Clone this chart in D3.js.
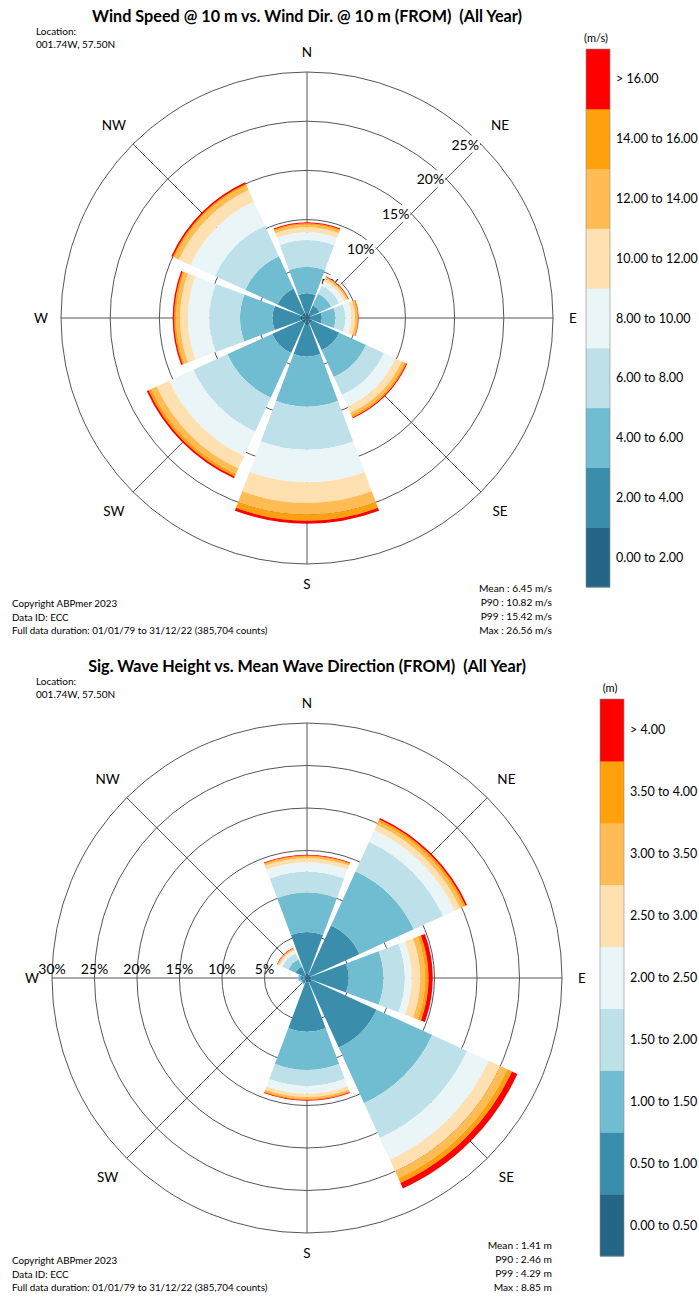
<!DOCTYPE html>
<html>
<head>
<meta charset="utf-8">
<script src="https://cdn.jsdelivr.net/npm/d3@7"></script>
<style>
  body { margin: 0; background: #fff; }
  text { font-family: Lato, "Open Sans", sans-serif; fill: #000; }
</style>
</head>
<body>
<svg id="chart" width="699" height="1297"></svg>
<script>
// ---- shared categories ----
const directions = ["N", "NE", "E", "SE", "S", "SW", "W", "NW"];
const bearings = [0, 45, 90, 135, 180, 225, 270, 315];
const bandColors = ["#256686", "#3A8DAB", "#70BCD1", "#BEE1E9", "#EAF5F8",
                    "#FFE0B1", "#FFBC55", "#FFA10C", "#FF0000"];

// ---- wind speed rose: frequency (%) per speed band, one array per direction ----
const windBands = ["0.00 to 2.00", "2.00 to 4.00", "4.00 to 6.00", "6.00 to 8.00",
                   "8.00 to 10.00", "10.00 to 12.00", "12.00 to 14.00", "14.00 to 16.00", "> 16.00"];
const windN  = [0.5, 2.0, 2.7, 2.7, 0.8, 0.5, 0.25, 0.15, 0.1];
const windNE = [0.4, 1.0, 1.3, 0.9, 0.5, 0.3, 0.15, 0.07, 0.05];
const windE  = [0.4, 1.1, 1.4, 1.0, 0.6, 0.4, 0.2, 0.1, 0.05];
const windSE = [0.6, 3.0, 3.0, 2.0, 1.3, 0.7, 0.3, 0.2, 0.1];
const windS  = [0.7, 3.2, 5.1, 4.4, 3.3, 2.1, 1.2, 0.6, 0.3];
const windSW = [0.6, 3.3, 5.0, 3.8, 2.7, 1.4, 0.6, 0.3, 0.2];
const windW  = [0.7, 2.8, 3.3, 3.1, 2.2, 0.8, 0.4, 0.2, 0.15];
const windNW = [0.6, 2.7, 3.6, 3.4, 2.7, 1.3, 0.5, 0.2, 0.15];
const windRings = [5, 10, 15, 20, 25];
const windRingLabels = ["5%", "10%", "15%", "20%", "25%"];
const windStats = ["Mean : 6.45 m/s", "P90 : 10.82 m/s", "P99 : 15.42 m/s", "Max : 26.56 m/s"];

// ---- wave height rose ----
const waveBands = ["0.00 to 0.50", "0.50 to 1.00", "1.00 to 1.50", "1.50 to 2.00",
                   "2.00 to 2.50", "2.50 to 3.00", "3.00 to 3.50", "3.50 to 4.00", "> 4.00"];
const waveN  = [0.5, 4.9, 4.6, 2.5, 1.1, 0.5, 0.2, 0.1, 0.1];
const waveNE = [0.5, 6.3, 7.0, 3.8, 1.5, 0.7, 0.4, 0.3, 0.2];
const waveE  = [0.5, 4.4, 4.1, 2.5, 0.8, 1.0, 0.6, 0.4, 0.5];
const waveSE = [0.6, 8.4, 7.2, 4.5, 2.8, 1.5, 0.9, 0.6, 0.7];
const waveS  = [0.5, 5.8, 4.5, 1.9, 0.9, 0.4, 0.2, 0.15, 0.1];
const waveSW = [0.3, 0.4, 0.15, 0.05, 0, 0, 0, 0, 0];
const waveW  = [0.3, 0.5, 0.25, 0.05, 0, 0, 0, 0, 0];
const waveNW = [0.3, 1.2, 0.9, 0.8, 0.3, 0.2, 0.1, 0.05, 0.05];
const waveRings = [5, 10, 15, 20, 25, 30];
const waveRingLabels = ["5%", "10%", "15%", "20%", "25%", "30%"];
const waveStats = ["Mean : 1.41 m", "P90 : 2.46 m", "P99 : 4.29 m", "Max : 8.85 m"];

const footer = ["Copyright ABPmer 2023", "Data ID: ECC",
                "Full data duration: 01/01/79 to 31/12/22 (385,704 counts)"];

const svg = d3.select("#chart");
const rad = d => d * Math.PI / 180;

function drawRose(opt) {
  const g = svg.append("g");
  const { cx, cy } = opt;
  const r = d3.scaleLinear().domain([0, d3.max(opt.rings)]).range([0, opt.radius]);
  const rMax = r.range()[1];
  const pt = (b, rr) => [cx + rr * Math.sin(rad(b)), cy - rr * Math.cos(rad(b))];

  // title and location
  g.append("text").attr("x", 307).attr("y", opt.top + 15)
    .attr("text-anchor", "middle").attr("dominant-baseline", "central")
    .style("font-weight", "bold").style("font-size", "16.2px").text(opt.title);
  ["Location:", "001.74W, 57.50N"].forEach((t, i) =>
    g.append("text").attr("x", 36).attr("y", opt.top + 31 + i * 13)
      .attr("dominant-baseline", "central").style("font-size", "10px").text(t));

  // grid rings and spokes
  const grid = g.append("g");
  grid.selectAll("circle").data(opt.rings).join("circle")
    .attr("cx", cx).attr("cy", cy).attr("r", d => r(d))
    .attr("fill", "none").attr("stroke", "#555").attr("stroke-width", 1);
  grid.selectAll("line").data(bearings).join("line")
    .attr("x1", cx).attr("y1", cy)
    .attr("x2", d => pt(d, rMax)[0]).attr("y2", d => pt(d, rMax)[1])
    .attr("stroke", "#555").attr("stroke-width", 1);

  // ring labels; the diagonal ones sit on a white box that masks the spoke
  const lab = g.append("g");
  opt.rings.forEach((v, i) => {
    const p = pt(opt.labelBearing, r(v));
    const t = lab.append("text").style("font-size", "14px")
      .attr("dominant-baseline", "central").text(opt.ringLabels[i]);
    if (opt.labelBearing === 45) {
      t.attr("x", p[0] - 2).attr("y", p[1]).attr("text-anchor", "end");
      const bb = t.node().getBBox();
      lab.insert("rect", "text").attr("x", bb.x - 1).attr("y", bb.y)
        .attr("width", bb.width + 2).attr("height", bb.height).attr("fill", "#fff");
    } else {
      t.attr("x", p[0]).attr("y", p[1] - 10).attr("text-anchor", "middle");
    }
  });

  // stacked petals
  const half = 20.5;
  const petals = g.append("g");
  opt.series.forEach((vals, di) => {
    const b = bearings[di];
    const cum = [0, ...d3.cumsum(vals)];
    const segs = vals.map((v, k) => ({ y0: cum[k], y1: cum[k + 1], k }));
    const arc = d3.arc()
      .innerRadius(d => r(d.y0)).outerRadius(d => r(d.y1))
      .startAngle(rad(b - half)).endAngle(rad(b + half));
    petals.append("g").attr("transform", `translate(${cx},${cy})`)
      .selectAll("path").data(segs.filter(s => s.y1 > s.y0)).join("path")
      .attr("d", arc).attr("fill", d => bandColors[d.k]);
  });

  // compass labels
  directions.forEach((d, i) => {
    const off = bearings[i] % 90 === 0 ? 20 : 27;
    const p = pt(bearings[i], rMax + off);
    g.append("text").attr("x", p[0]).attr("y", p[1])
      .attr("text-anchor", "middle").attr("dominant-baseline", "central")
      .style("font-size", "13.5px").text(d);
  });

  // legend
  const lg = g.append("g");
  const y = d3.scaleBand().domain(opt.bands.slice().reverse())
    .range([opt.legendTop, opt.legendBottom]).paddingInner(0);
  lg.selectAll("rect").data(opt.bands).join("rect")
    .attr("x", opt.legendX).attr("y", d => y(d))
    .attr("width", 24).attr("height", y.bandwidth() + 0.5)
    .attr("fill", (d, i) => bandColors[i]);
  lg.append("rect").attr("x", opt.legendX).attr("y", opt.legendTop)
    .attr("width", 24).attr("height", opt.legendBottom - opt.legendTop)
    .attr("fill", "none").attr("stroke", "#8a8a8a").attr("stroke-width", 0.6);
  lg.selectAll("text.band").data(opt.bands).join("text").attr("class", "band")
    .attr("x", opt.legendX + 30).attr("y", d => y(d) + y.bandwidth() / 2)
    .attr("dominant-baseline", "central").style("font-size", "12.5px").text(d => d);
  lg.append("text").attr("x", opt.legendX + 10).attr("y", opt.legendTop - 12)
    .attr("text-anchor", "middle").attr("dominant-baseline", "central")
    .style("font-size", "11px").text(opt.unit);

  // footer and statistics
  footer.forEach((t, i) =>
    g.append("text").attr("x", 12).attr("y", opt.footTop + 15 + i * 13.5)
      .attr("dominant-baseline", "central").style("font-size", "9.8px").text(t));
  opt.stats.forEach((t, i) =>
    g.append("text").attr("x", 552).attr("y", opt.footTop + i * 14)
      .attr("text-anchor", "end").attr("dominant-baseline", "central")
      .style("font-size", "10.2px").text(t));
}

drawRose({
  top: 0, cx: 307, cy: 318, radius: 246,
  title: "Wind Speed @ 10 m vs. Wind Dir. @ 10 m (FROM)\u00a0\u00a0(All Year)",
  rings: windRings, ringLabels: windRingLabels, labelBearing: 45,
  series: [windN, windNE, windE, windSE, windS, windSW, windW, windNW],
  bands: windBands, unit: "(m/s)",
  legendX: 586, legendTop: 49, legendBottom: 587,
  stats: windStats, footTop: 588
});

drawRose({
  top: 650, cx: 307, cy: 978, radius: 255,
  title: "Sig. Wave Height vs. Mean Wave Direction (FROM)\u00a0\u00a0(All Year)",
  rings: waveRings, ringLabels: waveRingLabels, labelBearing: 270,
  series: [waveN, waveNE, waveE, waveSE, waveS, waveSW, waveW, waveNW],
  bands: waveBands, unit: "(m)",
  legendX: 600, legendTop: 699, legendBottom: 1256,
  stats: waveStats, footTop: 1245
});
</script>
</body>
</html>
